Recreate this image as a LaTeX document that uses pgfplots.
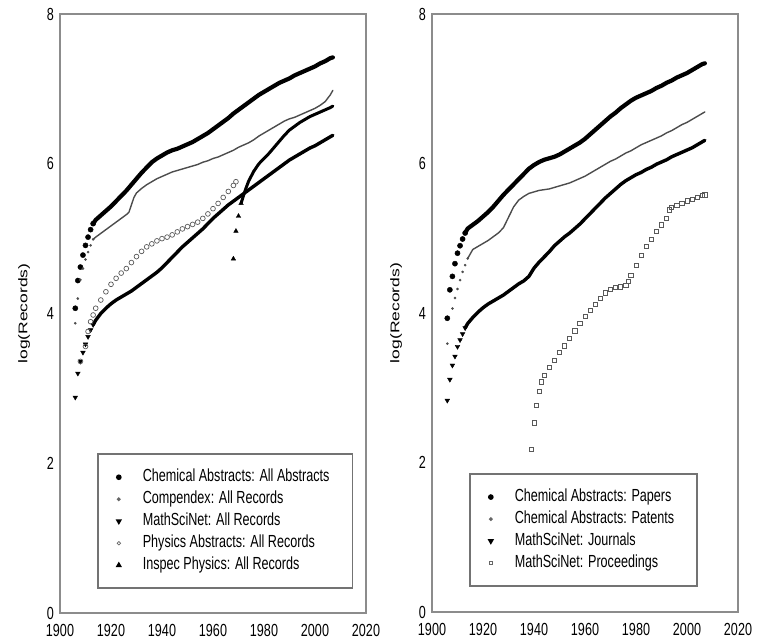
\documentclass[border=0pt]{standalone}
\usepackage{fontspec}
\usepackage{graphicx}
\usepackage{pgfplots}
\pgfplotsset{compat=1.18}
\setmainfont{Liberation Sans}[FakeStretch=0.72]
\newfontfamily\ylabfont{Liberation Sans}
\pgfplotsset{
 sCA/.style={black, mark=*, mark size=2.6bp},
 sCP/.style={black!70, mark=*, mark size=1.1bp},
 sMS/.style={black, mark=triangle*, mark size=2.7bp, mark options={rotate=180}},
 sPA/.style={black!65, mark=o, mark size=2.4bp, mark options={line width=0.7bp}},
 sIN/.style={black, mark=triangle*, mark size=2.6bp},
 sPR/.style={black!65, mark=square, mark size=2.1bp, mark options={line width=0.7bp}},
 lCA/.style={black, mark=*, mark size=2.0bp},
 lCP/.style={black!60, mark=*, mark size=1.0bp},
 lMS/.style={black, mark=triangle*, mark size=2.1bp, mark options={rotate=180}},
 lPA/.style={black!60, mark=o, mark size=1.7bp, mark options={line width=0.7bp}},
 lIN/.style={black, mark=triangle*, mark size=2.0bp},
 lPR/.style={black!60, mark=square, mark size=1.5bp, mark options={line width=0.6bp}},
 thickline/.style={no marks, line join=round, line cap=round},
 panel/.style={
  scale only axis, width=306bp,
  xmin=1900, xmax=2020, ymin=0, ymax=8,
  xtick={1900,1920,...,2020}, ytick={0,2,...,8},
  major tick length=0pt,
  axis line style={draw=black!45, line width=1.4bp},
  /pgf/number format/assume math mode=true,
  /pgf/number format/1000 sep={},
  xticklabel style={yshift=-5bp},
  every axis y label/.style={at={(axis description cs:0,0.5)}, xshift=-36bp, rotate=90, anchor=center},
  ylabel={\scalebox{1}[0.72]{\ylabfont log(Records)}},
  legend cell align=left,
  legend style={anchor=south west, draw=black!55, line width=1.6bp,
    inner xsep=19bp, inner ysep=12bp, row sep=0pt,
    nodes={text height=12.5bp, text depth=3.5bp, inner ysep=3bp, inner xsep=4bp},
    /tikz/every odd column/.append style={column sep=18bp}},
 },
}
\begin{document}
\fontsize{17.5bp}{21bp}\selectfont
\begin{tikzpicture}
\useasboundingbox (0,0) rectangle (757bp,639bp);
% ---------------- left panel ----------------
\begin{axis}[panel, at={(60bp,26bp)}, anchor=south west, height=599bp,
  legend style={at={(0.121,0.040)}}]
\addlegendimage{only marks, lCA}\addlegendentry{Chemical Abstracts: All Abstracts}
\addlegendimage{only marks, lCP}\addlegendentry{Compendex: All Records}
\addlegendimage{only marks, lMS}\addlegendentry{MathSciNet: All Records}
\addlegendimage{only marks, lPA}\addlegendentry{Physics Abstracts: All Records}
\addlegendimage{only marks, lIN}\addlegendentry{Inspec Physics: All Records}
% Chemical Abstracts
\addplot[forget plot, only marks, sCA] coordinates {(1906,4.07)(1907,4.44)(1908,4.62)(1909,4.78)(1910,4.91)(1911,5.02)(1912,5.12)(1913,5.20)};
\addplot[forget plot, thickline, black, line width=4.2bp] coordinates {(1913,5.20)(1914,5.25)(1916,5.31)(1918,5.37)(1920,5.43)(1922,5.50)(1924,5.57)(1926,5.64)(1928,5.72)(1930,5.80)(1932,5.88)(1934,5.95)(1936,6.02)(1938,6.07)(1940,6.11)(1942,6.15)(1944,6.18)(1946,6.20)(1948,6.23)(1950,6.26)(1952,6.29)(1954,6.33)(1956,6.37)(1958,6.41)(1960,6.46)(1962,6.51)(1964,6.56)(1966,6.61)(1968,6.67)(1970,6.72)(1972,6.77)(1974,6.82)(1976,6.87)(1978,6.92)(1980,6.96)(1982,7.00)(1984,7.04)(1986,7.08)(1988,7.11)(1990,7.14)(1992,7.18)(1994,7.21)(1996,7.24)(1998,7.27)(2000,7.30)(2002,7.34)(2004,7.37)(2006,7.41)(2007,7.42)};
% Compendex
\addplot[forget plot, only marks, sCP] coordinates {(1906,3.87)(1907,4.20)(1908,4.45)(1909,4.60)(1910,4.72)(1911,4.82)(1912,4.91)(1913,4.99)};
\addplot[forget plot, thickline, black!70, line width=1.4bp] coordinates {(1913,4.99)(1914,5.02)(1916,5.07)(1918,5.12)(1920,5.17)(1922,5.22)(1924,5.27)(1926,5.32)(1927,5.35)(1928,5.45)(1929,5.55)(1930,5.61)(1932,5.67)(1934,5.72)(1936,5.76)(1938,5.80)(1940,5.83)(1942,5.86)(1944,5.89)(1946,5.91)(1948,5.93)(1950,5.95)(1952,5.97)(1954,5.99)(1956,6.02)(1958,6.04)(1960,6.07)(1962,6.09)(1964,6.12)(1966,6.15)(1968,6.18)(1970,6.22)(1972,6.25)(1974,6.28)(1976,6.32)(1978,6.37)(1980,6.41)(1982,6.45)(1984,6.49)(1986,6.53)(1988,6.57)(1990,6.60)(1992,6.62)(1994,6.65)(1996,6.68)(1998,6.71)(2000,6.74)(2002,6.78)(2004,6.83)(2006,6.92)(2007,6.98)};
% MathSciNet
\addplot[forget plot, only marks, sMS] coordinates {(1906,2.88)(1907,3.20)(1908,3.36)(1909,3.48)(1910,3.59)(1911,3.69)(1912,3.78)(1913,3.85)};
\addplot[forget plot, thickline, black, line width=3.4bp] coordinates {(1913,3.85)(1914,3.91)(1916,4.00)(1918,4.07)(1920,4.13)(1922,4.18)(1924,4.22)(1926,4.26)(1928,4.30)(1930,4.35)(1932,4.40)(1934,4.45)(1936,4.50)(1938,4.55)(1940,4.61)(1942,4.68)(1944,4.75)(1946,4.82)(1948,4.89)(1950,4.95)(1952,5.01)(1954,5.07)(1956,5.13)(1958,5.20)(1960,5.27)(1962,5.33)(1964,5.39)(1966,5.45)(1968,5.50)(1970,5.55)(1972,5.60)(1974,5.65)(1976,5.70)(1978,5.75)(1980,5.80)(1982,5.85)(1984,5.90)(1986,5.95)(1988,6.00)(1990,6.05)(1992,6.09)(1994,6.13)(1996,6.17)(1998,6.21)(2000,6.24)(2002,6.28)(2004,6.32)(2006,6.36)(2007,6.38)};
% Physics Abstracts
\addplot[forget plot, only marks, sPA] coordinates {(1908,3.36)(1910,3.56)(1911,3.76)(1912,3.89)(1913,3.98)(1914,4.07)(1916,4.18)(1918,4.29)(1920,4.39)(1922,4.47)(1924,4.54)(1926,4.60)(1928,4.68)(1930,4.76)(1932,4.83)(1934,4.89)(1936,4.93)(1938,4.97)(1940,5.00)(1942,5.02)(1944,5.05)(1946,5.09)(1948,5.13)(1950,5.16)(1952,5.19)(1954,5.22)(1956,5.27)(1958,5.33)(1960,5.40)(1962,5.47)(1964,5.55)(1966,5.63)(1968,5.71)(1969,5.76)};
% Inspec Physics
\addplot[forget plot, only marks, sIN] coordinates {(1968,4.73)(1969,5.10)(1970,5.30)(1971,5.47)};
\addplot[forget plot, thickline, black, line width=3.0bp] coordinates {(1971,5.47)(1972,5.58)(1973,5.68)(1974,5.77)(1976,5.90)(1978,6.00)(1980,6.07)(1982,6.14)(1984,6.22)(1986,6.30)(1988,6.38)(1990,6.45)(1992,6.50)(1994,6.55)(1996,6.59)(1998,6.63)(2000,6.66)(2002,6.69)(2004,6.72)(2006,6.75)(2007,6.77)};
\end{axis}
% ---------------- right panel ----------------
\begin{axis}[panel, at={(432bp,27bp)}, anchor=south west, height=598bp,
  legend style={at={(0.121,0.042)}}]
\addlegendimage{only marks, lCA}\addlegendentry{Chemical Abstracts: Papers}
\addlegendimage{only marks, lCP}\addlegendentry{Chemical Abstracts: Patents}
\addlegendimage{only marks, lMS}\addlegendentry{MathSciNet: Journals}
\addlegendimage{only marks, lPR}\addlegendentry{MathSciNet: Proceedings}
% CA Papers
\addplot[forget plot, only marks, sCA] coordinates {(1906,3.93)(1907,4.31)(1908,4.49)(1909,4.66)(1910,4.80)(1911,4.90)(1912,4.99)(1913,5.07)};
\addplot[forget plot, thickline, black, line width=4.2bp] coordinates {(1913,5.07)(1914,5.13)(1916,5.18)(1918,5.23)(1920,5.29)(1922,5.35)(1924,5.42)(1926,5.50)(1928,5.58)(1930,5.65)(1932,5.72)(1934,5.79)(1936,5.86)(1938,5.93)(1940,5.98)(1942,6.02)(1944,6.05)(1946,6.07)(1948,6.09)(1950,6.12)(1952,6.16)(1954,6.20)(1956,6.24)(1958,6.28)(1960,6.33)(1962,6.39)(1964,6.45)(1966,6.51)(1968,6.57)(1970,6.63)(1972,6.68)(1974,6.74)(1976,6.79)(1978,6.84)(1980,6.88)(1982,6.91)(1984,6.94)(1986,6.97)(1988,7.01)(1990,7.04)(1992,7.08)(1994,7.11)(1996,7.15)(1998,7.18)(2000,7.21)(2002,7.25)(2004,7.29)(2006,7.33)(2007,7.34)};
% CA Patents
\addplot[forget plot, only marks, sCP] coordinates {(1906,3.59)(1908,4.06)(1909,4.20)(1910,4.32)(1911,4.44)(1912,4.55)(1913,4.64)(1914,4.73)};
\addplot[forget plot, thickline, black!70, line width=1.4bp] coordinates {(1914,4.73)(1916,4.85)(1918,4.89)(1920,4.93)(1922,4.97)(1924,5.02)(1926,5.07)(1928,5.14)(1930,5.28)(1932,5.42)(1934,5.51)(1936,5.56)(1938,5.60)(1940,5.62)(1942,5.64)(1944,5.65)(1946,5.66)(1948,5.68)(1950,5.70)(1952,5.72)(1954,5.74)(1956,5.77)(1958,5.80)(1960,5.83)(1962,5.87)(1964,5.91)(1966,5.95)(1968,5.99)(1970,6.03)(1972,6.06)(1974,6.10)(1976,6.14)(1978,6.17)(1980,6.21)(1982,6.25)(1984,6.28)(1986,6.31)(1988,6.34)(1990,6.37)(1992,6.41)(1994,6.44)(1996,6.48)(1998,6.52)(2000,6.55)(2002,6.59)(2004,6.63)(2006,6.67)(2007,6.69)};
% MathSciNet Journals
\addplot[forget plot, only marks, sMS] coordinates {(1906,2.83)(1907,3.11)(1908,3.30)(1909,3.42)(1910,3.55)(1911,3.64)(1912,3.72)(1913,3.80)};
\addplot[forget plot, thickline, black, line width=3.4bp] coordinates {(1913,3.80)(1914,3.86)(1916,3.94)(1918,4.01)(1920,4.07)(1922,4.12)(1924,4.16)(1926,4.20)(1928,4.24)(1930,4.29)(1932,4.34)(1934,4.39)(1936,4.43)(1938,4.49)(1940,4.60)(1942,4.68)(1944,4.75)(1946,4.82)(1948,4.90)(1950,4.96)(1952,5.02)(1954,5.07)(1956,5.13)(1958,5.19)(1960,5.26)(1962,5.33)(1964,5.40)(1966,5.47)(1968,5.54)(1970,5.60)(1972,5.66)(1974,5.72)(1976,5.77)(1978,5.81)(1980,5.85)(1982,5.88)(1984,5.92)(1986,5.95)(1988,5.99)(1990,6.02)(1992,6.05)(1994,6.09)(1996,6.12)(1998,6.15)(2000,6.18)(2002,6.21)(2004,6.25)(2006,6.29)(2007,6.31)};
% MathSciNet Proceedings
\addplot[forget plot, only marks, sPR] coordinates {(1939,2.18)(1940,2.53)(1941,2.76)(1942,2.95)(1943,3.08)(1944,3.17)(1946,3.27)(1948,3.37)(1950,3.47)(1952,3.56)(1954,3.66)(1956,3.76)(1958,3.86)(1960,3.95)(1962,4.04)(1964,4.12)(1966,4.20)(1968,4.27)(1970,4.32)(1972,4.34)(1974,4.35)(1976,4.37)(1977,4.42)(1978,4.50)(1980,4.64)(1982,4.77)(1984,4.89)(1986,4.99)(1988,5.09)(1990,5.18)(1992,5.27)(1993,5.38)(1994,5.41)(1996,5.44)(1998,5.47)(2000,5.50)(2002,5.52)(2004,5.55)(2006,5.57)(2007,5.58)};
\end{axis}
\end{tikzpicture}
\end{document}
